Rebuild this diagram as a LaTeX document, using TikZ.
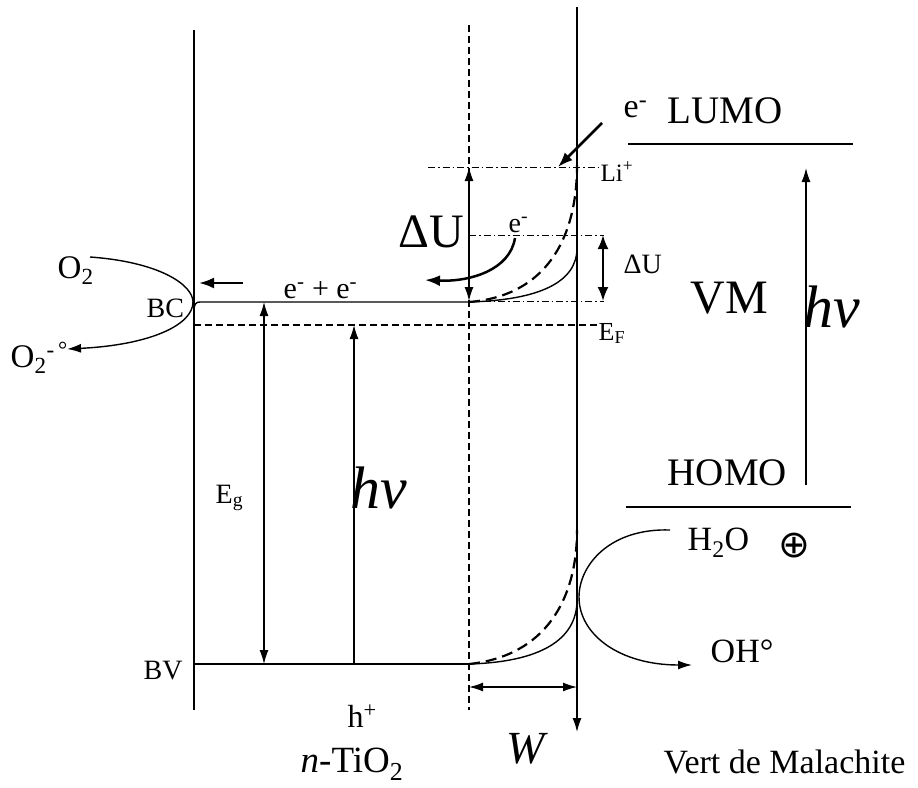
\documentclass[tikz,border=0pt]{standalone}
\usepackage{fontspec}
\setmainfont{Liberation Serif}
\newfontfamily\symfont{DejaVu Sans}
\usetikzlibrary{arrows.meta}
\newcommand\fsz[1]{\fontsize{#1}{#1}\selectfont}
\begin{document}
\begin{tikzpicture}[x=1pt,y=-1pt,line width=1.4pt,
  >={Latex[length=14pt,width=9pt]},
  lbl/.style={inner sep=0pt,anchor=base west},
  dd/.style={line width=1pt,dash pattern=on 7pt off 3pt on 1.5pt off 3pt},
  dsh/.style={line width=1.4pt,dash pattern=on 7pt off 4pt},
  curvedash/.style={line width=2.2pt,dash pattern=on 11pt off 6pt},
  thick2/.style={line width=2.5pt},
  level/.style={line width=2.4pt}]
\useasboundingbox (0,0) rectangle (918,787);
% coordinates
\coordinate (Ltop) at (194,30);   \coordinate (Lbot) at (194,710);
\coordinate (Dtop) at (469,25);   \coordinate (Dbot) at (469,710);
\coordinate (Rtop) at (577,7);    \coordinate (Rbot) at (577,732);
\coordinate (BCs) at (200,302);   \coordinate (BCe) at (469,302);
\coordinate (BVs) at (194,664);   \coordinate (BVe) at (469,664);
\coordinate (EFs) at (194,325);   \coordinate (EFe) at (600,325);
% main verticals
\draw (Ltop) -- (Lbot);
\draw[dsh] (Dtop) -- (Dbot);
\draw[->] (Rtop) -- (Rbot);
% conduction band
\draw (194,311) .. controls (194,304) and (196,302) .. (BCs) -- (BCe);
\draw (BCe) .. controls (540,300) and (577,282) .. (577,248);
\draw[curvedash] (BCe) .. controls (545,296) and (577,240) .. (577,165);
% valence band
\draw (BVs) -- (BVe);
\draw (BVe) .. controls (540,662) and (577,640) .. (577,600);
\draw[curvedash] (BVe) .. controls (545,656) and (577,600) .. (577,530);
% Fermi level
\draw[dsh] (EFs) -- (EFe);
% dash-dot levels
\coordinate (Lis) at (428,167); \coordinate (Lie) at (598,167);
\draw[dd] (Lis) -- (Lie);
\coordinate (Ua) at (469,235); \coordinate (Ub) at (604,235);
\draw[dd] (Ua) -- (Ub);
\coordinate (Uc) at (469,301); \coordinate (Ud) at (604,301);
\draw[dd] (Uc) -- (Ud);
% Delta U arrows
\draw[<->,line width=1.4pt] (469,167) -- (469,301);
\draw[<->,line width=2.2pt,>={Latex[length=14pt,width=11pt]}] (603,235) -- (603,301);
% Eg and hv arrows
\draw[<->] (264,302) -- (264,664);
\draw[->] (354,664) -- (354,325);
% W arrow
\draw[<->] (469,687) -- (577,687);
% molecule levels
\coordinate (LUa) at (628,144); \coordinate (LUb) at (853,144);
\coordinate (HOa) at (626,507); \coordinate (HOb) at (851,507);
\draw[level] (LUa) -- (LUb);
\draw[level] (HOa) -- (HOb);
\draw[->] (806,485) -- (806,168);
% bold arrows
\draw[->,thick2,>={Latex[length=15pt,width=11pt]}] (602,123) -- (558,167);
\draw[->,thick2,>={Latex[length=15pt,width=11pt]}] (515,238) .. controls (510,270) and (470,282) .. (425,280);
\draw[->,thick2,>={Latex[length=15pt,width=11pt]}] (243,283) -- (199,283);
% O2 curve
\draw[->] (90,257) .. controls (160,262) and (193,285) .. (193,302) .. controls (193,325) and (150,345) .. (67,349);
% H2O curve
\draw[->] (670,530) .. controls (610,528) and (579,565) .. (579,597) .. controls (579,635) and (620,665) .. (692,665);
% labels
\node[lbl] (eL) at (623,117) {\fsz{34}e\textsuperscript{-}};
\node[lbl] (lumo) at (667,123) {\fsz{39}LUMO};
\node[lbl] (homo) at (667,485) {\fsz{39}HOMO};
\node[lbl] (vm) at (690,313) {\fsz{48}VM};
\node[lbl] (hvR) at (803,327) {\fsz{60}\itshape hv};
\node[lbl] (hvL) at (350,508) {\fsz{60}\itshape hv};
\node[lbl] (dUbig) at (398,247) {\fsz{48}ΔU};
\node[lbl] (dUsm) at (623,273) {\fsz{28}ΔU};
\node[lbl] (li) at (600,181) {\fsz{25}Li\textsuperscript{+}};
\node[lbl] (ef) at (598,340) {\fsz{26}E\textsubscript{F}};
\node[lbl] (ee) at (283,298) {\fsz{30}e\textsuperscript{-} + e\textsuperscript{-}};
\node[lbl] (eC) at (508,232) {\fsz{28}e\textsuperscript{-}};
\node[lbl] (bc) at (146,317) {\fsz{28}BC};
\node[lbl] (o2) at (57,278) {\fsz{33}O\textsubscript{2}};
\node[lbl] (o2r) at (10,367) {\fsz{33}O\textsubscript{2}\textsuperscript{-\,°}};
\node[lbl] (eg) at (215,503) {\fsz{28}E\textsubscript{g}};
\node[lbl] (bv) at (143,679) {\fsz{28}BV};
\node[lbl] (hp) at (347,727) {\fsz{32}h\textsuperscript{+}};
\node[lbl] (tio) at (300,772) {\fsz{37}\textit{n}-TiO\textsubscript{2}};
\node[lbl] (w) at (506,763) {\fsz{46}\itshape W};
\node[lbl] (vdm) at (663,773) {\fsz{34}Vert de Malachite};
\node[lbl] (h2o) at (687,550) {\fsz{34}H\textsubscript{2}O};
\node[inner sep=0pt] (plus) at (794,546) {\fsz{38}\symfont ⊕};
\node[lbl] (oh) at (710,662) {\fsz{34}OH°};
\end{tikzpicture}
\end{document}
